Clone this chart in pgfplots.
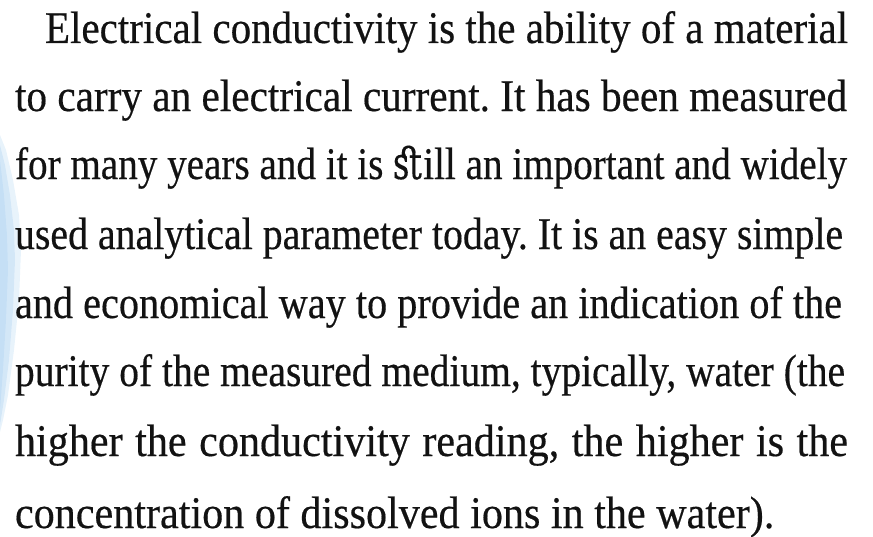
\documentclass[border=0pt]{standalone}
\usepackage{pgfplots}
\pgfplotsset{compat=1.18}
\usepackage{fontspec}
\setmainfont{Liberation Serif}[FakeStretch=0.93, FakeBold=0.4, WordSpace={1,1,1.6}]
\newfontfamily\ligfont{DejaVu Serif Condensed}[FakeStretch=0.85, FakeBold=0.3]
\definecolor{txt}{HTML}{121212}
\definecolor{glow}{HTML}{B4D6F2}
\tikzset{ln/.style={inner sep=0pt, outer sep=0pt, anchor=base west, text=txt,
    font=\fontsize{45.3bp}{50bp}\selectfont\frenchspacing}}
\newlength\natw
\newcommand\jl[2]{\settowidth\natw{#2}%
  \ifdim\natw>#1\relax\resizebox{#1}{\height}{#2}\else\makebox[#1][s]{#2}\fi}
\begin{document}
\begin{tikzpicture}
\begin{axis}[
  scale only axis, width=873bp, height=537bp,
  xmin=0, xmax=873, ymin=0, ymax=537, y dir=reverse,
  axis lines=none, clip=false
]
% faint blue glow at the left edge
\addplot[draw=none, fill=glow, fill opacity=0.3] coordinates {
  (0,135) (6,150) (13,180) (19,215) (21,250) (19,300) (14,350) (8,395) (3,420) (0,432) (0,135)};
\addplot[draw=none, fill=glow, fill opacity=0.4] coordinates {
  (0,145) (5,165) (10,195) (14,230) (15,260) (13,310) (9,360) (4,400) (0,425) (0,145)};
\addplot[draw=none, fill=glow, fill opacity=0.45] coordinates {
  (0,160) (4,195) (7,235) (8,270) (6,320) (3,370) (0,410) (0,160)};

\node[ln] at (axis cs:45,43)  {\jl{803bp}{Electrical conductivity is the ability of a material}};
\node[ln] at (axis cs:15,111) {\jl{832bp}{to carry an electrical current. It has been measured}};
\node[ln] at (axis cs:15,179) {\jl{832bp}{for many years and it is {\ligfont\char"FB06}ill an important and widely}};
\node[ln] at (axis cs:15,249) {\jl{828bp}{used analytical parameter today. It is an easy simple}};
\node[ln] at (axis cs:15,318) {\jl{827bp}{and economical way to provide an indication of the}};
\node[ln] at (axis cs:15,386) {\jl{830bp}{purity of the measured medium, typically, water (the}};
\node[ln] at (axis cs:15,456) {\jl{833bp}{higher the conductivity reading, the higher is the}};
\node[ln] at (axis cs:15,528) {concentration of dissolved ions in the water).};
\end{axis}
\pgfresetboundingbox
\path[use as bounding box] (current axis.south west) rectangle (current axis.north east);
\end{tikzpicture}
\end{document}
